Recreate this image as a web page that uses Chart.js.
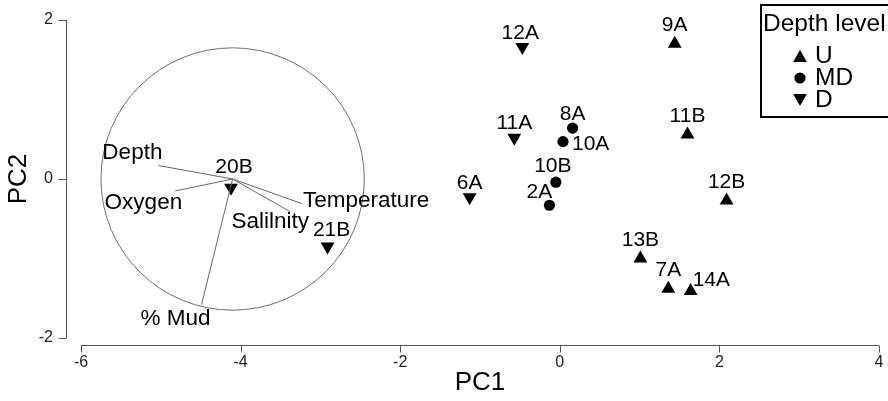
<!DOCTYPE html>
<html>
<head>
<meta charset="utf-8">
<script src="https://cdn.jsdelivr.net/npm/chart.js@4.4.0/dist/chart.umd.min.js"></script>
<style>
  html, body { margin: 0; padding: 0; background: #fff; }
  #wrap { width: 888px; height: 401px; position: relative; }
</style>
</head>
<body>
<div id="wrap"><canvas id="pcaChart"></canvas></div>
<script>
// Site scores on PC1 / PC2
const sites = ['12A', '9A', '11A', '8A', '10A', '11B', '10B', '2A', '6A', '12B', '20B', '21B', '13B', '7A', '14A'];
const pc1 = [-0.47, 1.44, -0.57, 0.16, 0.04, 1.60, -0.05, -0.13, -1.13, 2.09, -4.12, -2.91, 1.01, 1.36, 1.64];
const pc2 = [1.66, 1.70, 0.52, 0.64, 0.47, 0.56, -0.04, -0.33, -0.23, -0.27, -0.11, -0.85, -1.00, -1.38, -1.41];
const depthLevel = ['D', 'U', 'D', 'MD', 'MD', 'U', 'MD', 'MD', 'D', 'U', 'D', 'D', 'U', 'U', 'U'];
const levels = ['U', 'MD', 'D'];

// Environmental vectors (tips in PC space) and the correlation circle
const variables = ['Depth', 'Oxygen', 'Salilnity', 'Temperature', '% Mud'];
const vecX = [-5.03, -4.82, -3.38, -3.23, -4.49];
const vecY = [0.17, -0.15, -0.41, -0.31, -1.58];
const vecOrigin = [-4.10, 0];
const circleRadius = 1.65;

// Axis ticks
const xTicks = [-6, -4, -2, 0, 2, 4];
const yTicks = [-2, 0, 2];

const FONT = "'Liberation Sans', Arial, sans-serif";

const markerStyle = {
  U:  { pointStyle: 'triangle', rotation: 0,   radius: 8 },
  MD: { pointStyle: 'circle',   rotation: 0,   radius: 5.6 },
  D:  { pointStyle: 'triangle', rotation: 180, radius: 8 }
};

// where each site label sits relative to its marker [dx, dy, align]
const siteLabelDefault = { U: [0, -18.5, 'center'], MD: [0, -14, 'center'], D: [0, -14.5, 'center'] };
const siteLabelOverride = {
  '12A': [-2, -13.5, 'center'],
  '10A': [9, 3, 'left'],
  '14A': [2, -11, 'left'],
  '2A':  [-10, -13, 'center'],
  '10B': [-3, -15.5, 'center'],
  '20B': [3, -20.5, 'center'],
  '21B': [4, -16, 'center']
};
// [dx, dy, align] for the vector labels
const vecLabelPos = {
  'Depth':       [4, -12.5, 'right'],
  'Oxygen':      [7, 12, 'right'],
  'Salilnity':   [19, 10.5, 'right'],
  'Temperature': [1, -3, 'left'],
  '% Mud':       [-26, 14, 'center']
};

const datasets = [];

// one short line per environmental variable
variables.forEach((name, i) => {
  datasets.push({
    label: name,
    data: [{ x: vecOrigin[0], y: vecOrigin[1] }, { x: vecX[i], y: vecY[i] }],
    showLine: true,
    borderColor: '#666',
    borderWidth: 1,
    pointRadius: 0,
    fill: false
  });
});

levels.forEach(level => {
  const pts = [];
  sites.forEach((s, i) => {
    if (depthLevel[i] === level) pts.push({ x: pc1[i], y: pc2[i], site: s });
  });
  const m = markerStyle[level];
  datasets.push({
    label: level,
    data: pts,
    pointStyle: m.pointStyle,
    rotation: m.rotation,
    pointRadius: m.radius,
    backgroundColor: '#000',
    borderColor: '#000',
    borderWidth: 0,
    showLine: false,
    level: level
  });
});

function drawMarker(ctx, level, x, y) {
  const m = markerStyle[level];
  ctx.beginPath();
  if (m.pointStyle === 'circle') {
    ctx.arc(x, y, m.radius, 0, Math.PI * 2);
  } else {
    let rad = m.rotation * Math.PI / 180;
    ctx.moveTo(x + Math.sin(rad) * m.radius, y - Math.cos(rad) * m.radius);
    rad += 2 * Math.PI / 3;
    ctx.lineTo(x + Math.sin(rad) * m.radius, y - Math.cos(rad) * m.radius);
    rad += 2 * Math.PI / 3;
    ctx.lineTo(x + Math.sin(rad) * m.radius, y - Math.cos(rad) * m.radius);
    ctx.closePath();
  }
  ctx.fillStyle = '#000';
  ctx.fill();
}

const biplotPlugin = {
  id: 'biplot',
  beforeDatasetsDraw(chart) {
    const { ctx, scales: { x, y } } = chart;
    const cx = x.getPixelForValue(vecOrigin[0]);
    const cy = y.getPixelForValue(vecOrigin[1]);
    const rx = x.getPixelForValue(vecOrigin[0] + circleRadius) - cx;
    const ry = cy - y.getPixelForValue(vecOrigin[1] + circleRadius);
    ctx.save();
    ctx.strokeStyle = '#6e6e6e';
    ctx.lineWidth = 1;
    ctx.beginPath();
    ctx.ellipse(cx, cy, rx, ry, 0, 0, Math.PI * 2);
    ctx.stroke();
    ctx.restore();
  },
  afterDraw(chart) {
    const { ctx, chartArea, scales: { x, y } } = chart;
    ctx.save();

    // detached axes, R style
    const axisYPos = Math.round(chartArea.bottom + 7) + 0.5;
    const axisXPos = Math.round(chartArea.left - 15) + 0.5;
    ctx.strokeStyle = '#555';
    ctx.lineWidth = 1;
    ctx.beginPath();
    ctx.moveTo(x.getPixelForValue(xTicks[0]), axisYPos);
    ctx.lineTo(x.getPixelForValue(xTicks[xTicks.length - 1]), axisYPos);
    xTicks.forEach(t => {
      const px = Math.round(x.getPixelForValue(t)) + 0.5;
      ctx.moveTo(px, axisYPos);
      ctx.lineTo(px, axisYPos + 7);
    });
    ctx.moveTo(axisXPos, y.getPixelForValue(yTicks[0]));
    ctx.lineTo(axisXPos, y.getPixelForValue(yTicks[yTicks.length - 1]));
    yTicks.forEach(t => {
      const py = Math.round(y.getPixelForValue(t)) + 0.5;
      ctx.moveTo(axisXPos, py);
      ctx.lineTo(axisXPos - 8, py);
    });
    ctx.stroke();

    // site labels
    ctx.fillStyle = '#000';
    ctx.textBaseline = 'middle';
    ctx.font = '21px ' + FONT;
    chart.data.datasets.forEach((ds, di) => {
      if (!ds.level) return;
      const meta = chart.getDatasetMeta(di);
      meta.data.forEach((el, i) => {
        const name = ds.data[i].site;
        const p = siteLabelOverride[name] || siteLabelDefault[ds.level];
        ctx.textAlign = p[2];
        ctx.fillText(name, el.x + p[0], el.y + p[1]);
      });
    });

    // vector labels
    ctx.font = '22.5px ' + FONT;
    variables.forEach((name, i) => {
      const p = vecLabelPos[name];
      ctx.textAlign = p[2];
      ctx.fillText(name, x.getPixelForValue(vecX[i]) + p[0], y.getPixelForValue(vecY[i]) + p[1]);
    });

    // legend box
    ctx.strokeStyle = '#000';
    ctx.lineWidth = 2;
    ctx.strokeRect(761, 5, 140, 112);
    ctx.textAlign = 'left';
    ctx.font = '24.5px ' + FONT;
    ctx.fillText('Depth level', 763, 24);
    const rowY = [56, 78, 100];
    levels.forEach((level, i) => {
      drawMarker(ctx, level, 800, rowY[i] + (level === 'U' ? 2 : level === 'D' ? -2 : 0));
      ctx.fillStyle = '#000';
      ctx.fillText(level, 815, rowY[i]);
    });

    ctx.restore();
  }
};

new Chart(document.getElementById('pcaChart'), {
  type: 'scatter',
  data: { datasets: datasets },
  options: {
    responsive: true,
    maintainAspectRatio: false,
    animation: false,
    events: [],
    layout: { autoPadding: false, padding: { top: 20, right: 9, bottom: 0, left: 0 } },
    plugins: {
      legend: { display: false },
      tooltip: { enabled: false }
    },
    scales: {
      x: {
        type: 'linear',
        min: xTicks[0],
        max: xTicks[xTicks.length - 1],
        afterFit(scale) {
          scale.height = 63;
          scale.paddingLeft = 0;
          scale.paddingRight = 0;
        },
        afterBuildTicks(scale) { scale.ticks = xTicks.map(v => ({ value: v })); },
        grid: { display: false, drawTicks: false },
        border: { display: false },
        ticks: { padding: 15, color: '#222', font: { family: FONT, size: 16 } },
        title: { display: true, text: 'PC1', color: '#000', font: { family: FONT, size: 26 }, padding: { top: 0, bottom: 3 } }
      },
      y: {
        type: 'linear',
        min: yTicks[0],
        max: yTicks[yTicks.length - 1],
        afterFit(scale) {
          scale.width = 81;
          scale.paddingTop = 0;
          scale.paddingBottom = 0;
        },
        afterBuildTicks(scale) { scale.ticks = yTicks.map(v => ({ value: v })); },
        grid: { display: false, drawTicks: false },
        border: { display: false },
        ticks: { padding: 28, color: '#222', font: { family: FONT, size: 16 } },
        title: { display: true, text: 'PC2', color: '#000', font: { family: FONT, size: 26 }, padding: { top: 3, bottom: 0 } }
      }
    }
  },
  plugins: [biplotPlugin]
});
</script>
</body>
</html>
